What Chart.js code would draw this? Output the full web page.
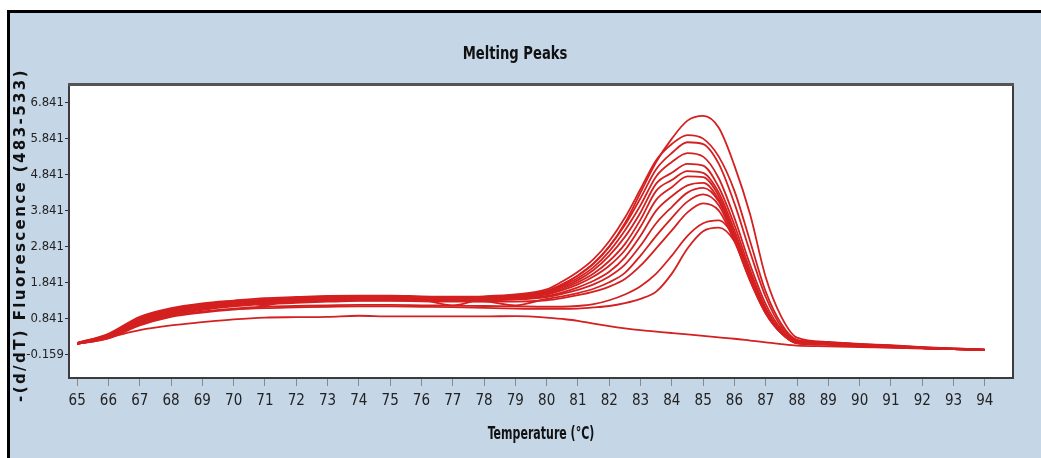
<!DOCTYPE html>
<html><head><meta charset="utf-8">
<script src="https://cdn.jsdelivr.net/npm/chart.js@4"></script>
<style>html,body{margin:0;padding:0;background:#fff;}#wrap{width:1041px;height:458px;position:relative}</style>
</head><body><div id="wrap"><canvas id="c" width="1041" height="458"></canvas></div>
<script>
const temps = [65,66,67,68,69,70,71,72,73,74,75,76,77,78,79,80,80.5,81,81.5,82,82.5,83,83.5,84,84.5,85,85.5,86,86.5,87,87.5,88,89,90,91,92,93,94];
const xTicks = [65,66,67,68,69,70,71,72,73,74,75,76,77,78,79,80,81,82,83,84,85,86,87,88,89,90,91,92,93,94];
const yTicks = [-0.159,0.841,1.841,2.841,3.841,4.841,5.841,6.841];

const s1 = [0.17,0.40,0.85,1.10,1.23,1.32,1.38,1.42,1.45,1.46,1.46,1.45,1.44,1.45,1.50, 1.62,1.80,2.05,2.38,2.85,3.50,4.35,5.20,5.85,6.35,6.48,6.15,5.10,3.75,2.00,0.90,0.32, 0.20,0.15,0.11,0.06,0.02,-0.01];
const s2 = [0.17,0.43,0.90,1.14,1.27,1.35,1.42,1.45,1.48,1.49,1.49,1.47,1.46,1.47,1.52, 1.66,1.88,2.15,2.50,3.00,3.65,4.45,5.25,5.70,5.95,5.85,5.35,4.40,3.00,1.60,0.70,0.26, 0.19,0.14,0.10,0.05,0.02,-0.01];
const s3 = [0.17,0.41,0.87,1.12,1.25,1.33,1.22,1.42,1.45,1.46,1.46,1.44,1.43,1.44,1.48, 1.60,1.80,2.05,2.38,2.85,3.45,4.20,5.00,5.45,5.75,5.70,5.15,4.05,2.70,1.45,0.62,0.24, 0.18,0.13,0.09,0.05,0.01,-0.01];
const s4 = [0.16,0.39,0.84,1.09,1.22,1.31,1.37,1.41,1.44,1.45,1.45,1.43,1.42,1.43,1.47, 1.58,1.76,1.98,2.28,2.72,3.30,4.00,4.80,5.20,5.45,5.35,4.75,3.65,2.35,1.25,0.55,0.22, 0.17,0.13,0.09,0.04,0.01,-0.02];
const s5 = [0.17,0.38,0.82,1.07,1.21,1.30,1.36,1.40,1.43,1.45,1.45,1.43,1.42,1.42,1.45, 1.56,1.72,1.92,2.20,2.60,3.12,3.80,4.60,4.90,5.15,5.10,4.50,3.45,2.20,1.15,0.50,0.20, 0.16,0.12,0.08,0.04,0.01,-0.02];
const s6 = [0.16,0.37,0.80,1.05,1.19,1.28,1.34,1.38,1.41,1.43,1.43,1.41,1.40,1.41,1.44, 1.54,1.68,1.86,2.10,2.45,2.92,3.60,4.40,4.70,4.95,4.90,4.35,3.30,2.10,1.10,0.48,0.19, 0.15,0.12,0.08,0.04,0.01,-0.02];
const s7 = [0.16,0.36,0.78,1.03,1.17,1.27,1.33,1.37,1.40,1.42,1.42,1.38,1.22,1.40,1.42, 1.52,1.64,1.80,2.02,2.32,2.75,3.40,4.15,4.50,4.80,4.78,4.25,3.20,2.02,1.06,0.47,0.18, 0.15,0.11,0.07,0.03,0.00,-0.02];
const s8 = [0.16,0.35,0.76,1.01,1.15,1.25,1.31,1.35,1.38,1.40,1.40,1.39,1.38,1.38,1.40, 1.48,1.58,1.72,1.90,2.15,2.55,3.15,3.85,4.25,4.55,4.62,4.15,3.15,1.98,1.04,0.46,0.18, 0.14,0.11,0.07,0.03,0.00,-0.02];
const s9 = [0.15,0.34,0.74,0.99,1.13,1.23,1.29,1.33,1.36,1.38,1.38,1.37,1.36,1.36,1.38, 1.45,1.54,1.65,1.80,2.02,2.35,2.88,3.50,3.95,4.35,4.48,4.10,3.10,1.95,1.02,0.45,0.17, 0.14,0.10,0.07,0.03,0.00,-0.02];
const s10 = [0.15,0.33,0.72,0.97,1.11,1.21,1.27,1.31,1.34,1.36,1.36,1.35,1.34,1.33,1.22, 1.40,1.47,1.56,1.68,1.86,2.12,2.60,3.15,3.65,4.10,4.30,4.00,3.05,1.92,1.00,0.44,0.17, 0.13,0.10,0.06,0.03,0.00,-0.02];
const s11 = [0.15,0.32,0.70,0.95,1.09,1.19,1.25,1.29,1.32,1.34,1.34,1.33,1.32,1.32,1.32, 1.36,1.42,1.50,1.60,1.74,1.95,2.32,2.80,3.30,3.80,4.05,3.85,3.00,1.90,0.99,0.44,0.16, 0.13,0.09,0.06,0.03,0.00,-0.02];
const s12 = [0.15,0.31,0.68,0.92,1.05,1.13,1.18,1.20,1.22,1.23,1.23,1.22,1.21,1.20,1.19, 1.18,1.18,1.20,1.25,1.36,1.52,1.75,2.10,2.60,3.15,3.50,3.58,3.10,2.05,1.05,0.46,0.17, 0.13,0.09,0.06,0.03,0.00,-0.02];
const s13 = [0.15,0.30,0.66,0.90,1.02,1.10,1.14,1.16,1.18,1.19,1.19,1.18,1.17,1.15,1.13, 1.12,1.12,1.13,1.16,1.20,1.28,1.40,1.60,2.10,2.80,3.28,3.38,3.00,2.00,1.06,0.47,0.18, 0.14,0.10,0.06,0.03,0.00,-0.02];
const control = [0.17,0.33,0.53,0.66,0.75,0.83,0.88,0.89,0.90,0.93,0.91,0.91,0.91,0.91,0.92, 0.88,0.84,0.79,0.71,0.64,0.58,0.53,0.49,0.45,0.41,0.37,0.33,0.29,0.24,0.19,0.14,0.10, 0.08,0.06,0.04,0.02,0.00,-0.02];

const seriesList = [control,s13,s12,s11,s10,s9,s8,s7,s6,s5,s4,s3,s2,s1];

const NARROW = "'Liberation Sans Narrow','DejaVu Sans Condensed','Arial Narrow',sans-serif";
const LINE = '#d42020';

function squeezedText(ctx, text, x, y, sx){
  ctx.save(); ctx.translate(x,y); ctx.scale(sx,1); ctx.fillText(text,0,0); ctx.restore();
}

const frame = {
  id:'frame',
  beforeDraw(chart){
    const {ctx, chartArea:a, width, height} = chart;
    ctx.save();
    ctx.fillStyle='#ffffff'; ctx.fillRect(0,0,width,height);
    ctx.fillStyle='#c5d6e7'; ctx.fillRect(8,11,width-8,height-11);
    ctx.fillStyle='#000'; ctx.fillRect(7,10,width-7,3); ctx.fillRect(7,10,3,height-10);
    ctx.fillStyle='#fff'; ctx.fillRect(a.left,a.top,a.right-a.left,a.bottom-a.top);
    ctx.restore();
  },
  afterDraw(chart){
    const {ctx, chartArea:a} = chart;
    ctx.save();
    ctx.strokeStyle='#3c3c3c'; ctx.lineWidth=2;
    ctx.strokeRect(a.left,a.top,a.right-a.left,a.bottom-a.top);
    ctx.fillStyle='#555'; ctx.fillRect(a.left-1,a.top-2,a.right-a.left+2,3);
    ctx.fillStyle='#111';
    ctx.textAlign='center'; ctx.textBaseline='middle';
    ctx.font="bold 17px "+NARROW;
    squeezedText(ctx,'Melting Peaks',515,55,0.86);
    ctx.font="bold 18px "+NARROW;
    squeezedText(ctx,'Temperature (°C)',541,434,0.68);
    ctx.translate(21,235); ctx.rotate(-Math.PI/2);
    ctx.font="bold 15px 'DejaVu Sans',sans-serif";
    try{ctx.letterSpacing='2.4px';}catch(e){}
    ctx.fillText('-(d/dT) Fluorescence (483-533)',0,0);
    ctx.restore();
  }
};

new Chart(document.getElementById('c'),{
  type:'line',
  data:{datasets: seriesList.map(s=>({
    data: s.map((v,i)=>({x:temps[i],y:v})),
    borderColor: LINE, borderWidth:1.8, pointRadius:0, fill:false,
    cubicInterpolationMode:'monotone'
  }))},
  options:{
    responsive:false, animation:false, devicePixelRatio:1,
    layout:{padding:{top:85,right:28,left:0,bottom:0}},
    plugins:{legend:{display:false},tooltip:{enabled:false},title:{display:false}},
    scales:{
      x:{type:'linear',min:64.74,max:94.9,
        afterBuildTicks:s=>{s.ticks=xTicks.map(v=>({value:v}));},
        afterFit:s=>{s.height=80;},
        grid:{drawOnChartArea:false,drawTicks:true,tickLength:8,color:'#8a8a8a'},
        border:{display:false},
        ticks:{font:{family:NARROW,size:15},color:'#222',padding:6,maxRotation:0,autoSkip:false,callback:v=>String(v)}
      },
      y:{min:-0.80,max:7.34,
        afterBuildTicks:s=>{s.ticks=yTicks.map(v=>({value:v}));},
        afterFit:s=>{s.width=69;},
        grid:{drawOnChartArea:false,drawTicks:true,tickLength:4,color:'#333'},
        border:{display:false},
        ticks:{font:{family:NARROW,size:13},color:'#222',padding:1,autoSkip:false,callback:v=>Number(v).toFixed(3)}
      }
    }
  },
  plugins:[frame]
});
</script></body></html>
